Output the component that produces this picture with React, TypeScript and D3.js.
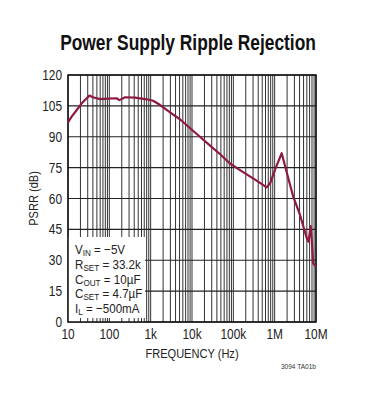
import React from "react";
import * as d3 from "d3";

// curve (Hz, dB)
const freqs = [10, 12.5, 15.6, 21, 26, 33, 40, 59, 93, 150, 175, 240, 420, 800, 1150, 1700, 2950, 5100, 15500, 27000, 48000, 83000, 145000, 335000, 490000, 640000, 780000, 1020000, 1480000, 2000000, 2800000, 4100000, 6000000, 6600000, 7400000, 7900000, 8500000, 10000000];
const psrr = [97, 100, 102.5, 106, 108, 110, 109.2, 108.3, 108.5, 108.7, 107.8, 109.2, 109, 108.2, 107.5, 105.4, 101.8, 98.5, 90, 85.8, 81.5, 77, 73.8, 69.2, 67, 65.4, 67.5, 74, 82, 72, 61, 52, 40.6, 39, 46.6, 40, 28.5, 26.9];

const yTicks = [0, 15, 30, 45, 60, 75, 90, 105, 120];
const xTicks = [10, 100, 1e3, 1e4, 1e5, 1e6, 1e7];
const xTickLabels = ["10", "100", "1k", "10k", "100k", "1M", "10M"];

const legendLines = [
  ["V", "IN", " = \u22125V"],
  ["R", "SET", " = 33.2k"],
  ["C", "OUT", " = 10\u00b5F"],
  ["C", "SET", " = 4.7\u00b5F"],
  ["I", "L", " = \u2212500mA"],
];

const FONT = "'Liberation Sans', Arial, sans-serif";
const SX = 0.82; // squeeze to look like a condensed face

function NText({ x, y, sx = SX, anchor = "start", size = 14, weight = "normal", fill = "#222", children }: any) {
  return (
    <text
      transform={`translate(${x},${y}) scale(${sx},1)`}
      textAnchor={anchor}
      fontSize={size}
      fontWeight={weight}
      fill={fill}
    >
      {children}
    </text>
  );
}

export default function App() {
  const left = 68, right = 316, top = 75, bottom = 322;
  const x = d3.scaleLog().domain([10, 1e7]).range([left, right]);
  const y = d3.scaleLinear().domain([0, 120]).range([bottom, top]);

  const minor: number[] = [];
  for (let d = 10; d < 1e7; d *= 10) {
    for (let m = 1; m <= 9; m++) minor.push(d * m);
  }
  minor.push(1e7);

  const line = d3
    .line<number>()
    .x((_, i) => x(freqs[i]))
    .y((v) => y(v))
    .curve(d3.curveLinear);

  const box = { x0: left, x1: 145, y0: 237, y1: bottom };

  return (
    <svg
      width={384}
      height={397}
      style={{ position: "absolute", left: 0, top: 0, background: "#fff" }}
      fontFamily={FONT}
    >
      <NText x={188} y={50} anchor="middle" size={22} weight="bold" sx={0.79} fill="#111">
        Power Supply Ripple Rejection
      </NText>

      {/* grid */}
      {minor.map((f, i) => (
        <line key={"v" + i} x1={x(f)} x2={x(f)} y1={top} y2={bottom} stroke="#333" strokeWidth={1} />
      ))}
      {yTicks.map((t) => (
        <line key={"h" + t} x1={left} x2={right} y1={y(t)} y2={y(t)} stroke="#222" strokeWidth={1.2} />
      ))}

      {/* legend box */}
      <rect x={box.x0} y={box.y0} width={box.x1 - box.x0} height={box.y1 - box.y0} fill="#fff" />
      {minor
        .filter((f) => x(f) > box.x0 && x(f) < box.x1)
        .map((f, i) => (
          <line key={"t" + i} x1={x(f)} x2={x(f)} y1={bottom} y2={bottom - 4} stroke="#333" />
        ))}
      {legendLines.map((l, i) => (
        <NText key={"l" + i} x={75} y={254 + i * 14.8} size={13.5} sx={0.86}>
          {l[0]}
          <tspan fontSize={9.5} dy={2}>{l[1]}</tspan>
          <tspan dy={-2}>{l[2]}</tspan>
        </NText>
      ))}

      {/* frame */}
      <rect x={left} y={top} width={right - left} height={bottom - top} fill="none" stroke="#111" strokeWidth={1.5} />

      {/* curve */}
      <path d={line(psrr) || ""} fill="none" stroke="#8e1b3f" strokeWidth={2.2} strokeLinejoin="round" />

      {/* axes labels */}
      {yTicks.map((t) => (
        <NText key={"yl" + t} x={left - 6} y={y(t) + 5} anchor="end" size={14.5}>
          {t}
        </NText>
      ))}
      {xTicks.map((t, i) => (
        <NText key={"xl" + t} x={x(t)} y={339} anchor="middle" size={14.5}>
          {xTickLabels[i]}
        </NText>
      ))}
      <NText x={192} y={358} anchor="middle" size={13.5}>
        FREQUENCY (Hz)
      </NText>
      <text
        transform={`translate(38,${(top + bottom) / 2}) rotate(-90) scale(${SX},1)`}
        textAnchor="middle"
        fontSize={13.5}
        fill="#222"
      >
        PSRR (dB)
      </text>
      <NText x={316} y={369} anchor="end" size={8} fill="#333">
        3094 TA01b
      </NText>
    </svg>
  );
}
